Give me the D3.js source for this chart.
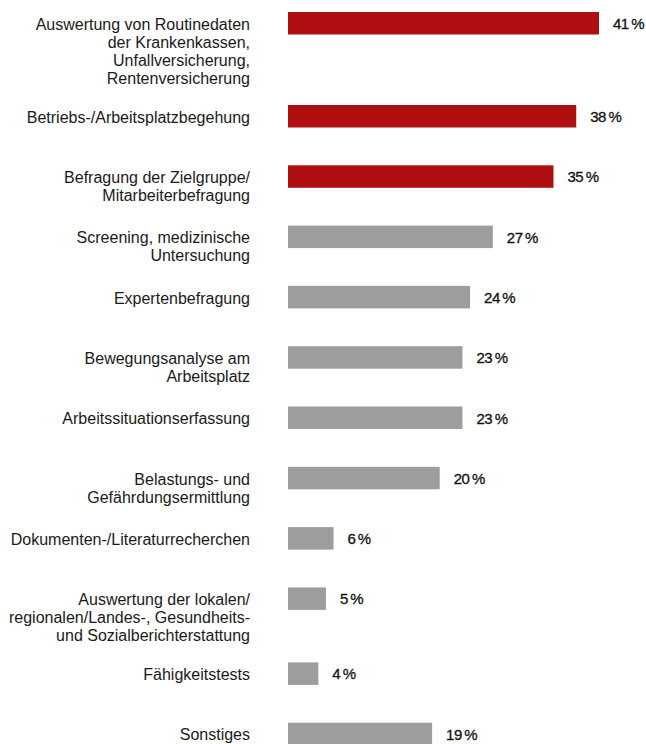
<!DOCTYPE html>
<html><head><meta charset="utf-8">
<script src="https://cdn.jsdelivr.net/npm/d3@7"></script>
<style>
html,body{margin:0;padding:0;background:#fff;}
svg{display:block;}
text{font-family:"Liberation Sans",Arial,sans-serif;}
</style></head>
<body>
<script>
const categories = [
  ["Auswertung von Routinedaten","der Krankenkassen,","Unfallversicherung,","Rentenversicherung"],
  ["Betriebs-/Arbeitsplatzbegehung"],
  ["Befragung der Zielgruppe/","Mitarbeiterbefragung"],
  ["Screening, medizinische","Untersuchung"],
  ["Expertenbefragung"],
  ["Bewegungsanalyse am","Arbeitsplatz"],
  ["Arbeitssituationserfassung"],
  ["Belastungs- und","Gefährdungsermittlung"],
  ["Dokumenten-/Literaturrecherchen"],
  ["Auswertung der lokalen/","regionalen/Landes-, Gesundheits-","und Sozialberichterstattung"],
  ["Fähigkeitstests"],
  ["Sonstiges"]
];
const values = [41, 38, 35, 27, 24, 23, 23, 20, 6, 5, 4, 19];
const highlighted = [true, true, true, false, false, false, false, false, false, false, false, false];
const valueLabels = values.map(v => v + "\u2009%");

const W = 646, H = 744;
const barX0 = 288, barXMax = 599;
const barH = 22.5;
const lineH = 18;
const fontSize = 16;
const labelX = 250;
const red = "#B00F12", gray = "#9D9D9C";

const x = d3.scaleLinear().domain([0, d3.max(values)]).range([barX0, barXMax]);

// row tops computed from label line counts
const rowTops = [];
let acc = 0;
categories.forEach((lines, i) => {
  rowTops.push(acc);
  acc += Math.max(60.3, lines.length * lineH + 21);
});
const y = d3.scaleLinear().domain([0, 1]).range([12, 13]);

const svg = d3.select("body").append("svg").attr("width", W).attr("height", H);

const rows = svg.selectAll("g.row").data(values).enter().append("g").attr("class", "row")
  .attr("transform", (d, i) => `translate(0,${y(rowTops[i])})`);

rows.append("rect")
  .attr("x", x(0))
  .attr("y", 0)
  .attr("width", d => x(d) - x(0))
  .attr("height", barH)
  .attr("fill", (d, i) => highlighted[i] ? red : gray);

rows.append("text")
  .attr("x", d => x(d) + 14)
  .attr("y", barH / 2 + 5.8)
  .attr("font-size", 15)
  .attr("letter-spacing", -0.5)
  .attr("fill", "#111")
  .attr("stroke", "#111")
  .attr("stroke-width", 0.3)
  .text((d, i) => valueLabels[i]);

rows.each(function(d, i) {
  const t = d3.select(this).append("text")
    .attr("x", labelX)
    .attr("text-anchor", "end")
    .attr("font-size", fontSize)
    .attr("fill", "#1a1a1a");
  categories[i].forEach((ln, j) => {
    t.append("tspan").attr("x", labelX).attr("y", barH / 2 + 6.5 + j * lineH).text(ln);
  });
});
</script>
</body></html>
